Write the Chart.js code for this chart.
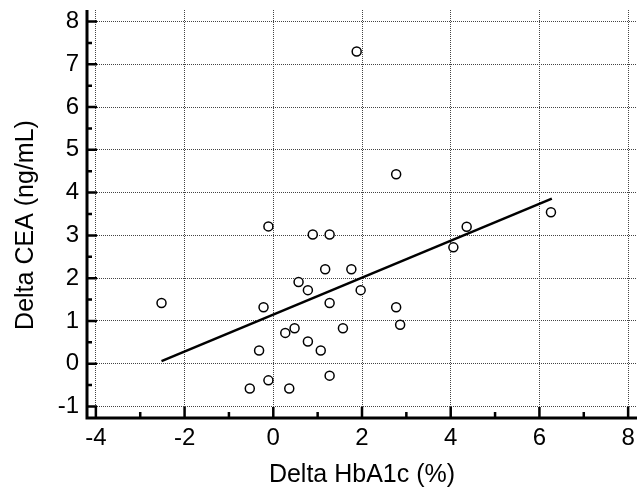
<!DOCTYPE html>
<html>
<head>
<meta charset="utf-8">
<script src="https://cdn.jsdelivr.net/npm/chart.js@4"></script>
<style>
    body { margin: 0; background: #fff; }
    #wrap { width: 643px; height: 488px; }
</style>
</head>
<body>
<div id="wrap"><canvas id="myChart" width="643" height="488"></canvas></div>
<script>
// DATA
const xValues = [-2.52, -0.11, 0.89, 1.27, 1.17, 1.76, 0.57, 0.78, 1.97, 1.27, -0.22, 2.77, 2.86, 0.48,
    0.27, 1.57, 0.78, -0.32, 1.07, 1.27, -0.11, -0.53, 0.36, 1.88, 2.77, 4.36, 4.06, 6.26];
const yValues = [1.42, 3.21, 3.02, 3.02, 2.21, 2.21, 1.91, 1.72, 1.72, 1.42, 1.32, 1.32, 0.91, 0.83,
    0.72, 0.83, 0.52, 0.31, 0.31, -0.28, -0.39, -0.58, -0.58, 7.30, 4.43, 3.20, 2.72, 3.54];
// regression line end points
const fitX = [-2.52, 6.28];
const fitY = [0.06, 3.86];
// ticks
const xTicks = [-4, -2, 0, 2, 4, 6, 8];
const xMinorTicks = [-3, -1, 1, 3, 5, 7];
const yTicks = [-1, 0, 1, 2, 3, 4, 5, 6, 7, 8];
const yMinorTicks = [-0.5, 0.5, 1.5, 2.5, 3.5, 4.5, 5.5, 6.5, 7.5];
const xTitle = 'Delta HbA1c (%)';
const yTitle = 'Delta CEA (ng/mL)';

const FONT = 'Liberation Sans, Arial, Helvetica, sans-serif';

// no extra room for the end labels, the plot area is fixed by layout padding
function noPadding(s) {
    s.paddingTop = 0;
    s.paddingBottom = 0;
    s.paddingLeft = 0;
    s.paddingRight = 0;
}

// axes + inward ticks, drawn from the chart's own scales
const axesPlugin = {
    id: 'axesPlugin',
    afterDatasetsDraw(chart) {
        const ctx = chart.ctx;
        const area = chart.chartArea;
        const xs = chart.scales.x;
        const ys = chart.scales.y;
        ctx.save();
        ctx.strokeStyle = '#000';
        ctx.lineCap = 'butt';
        // major + minor ticks
        ctx.lineWidth = 2.5;
        ctx.beginPath();
        xTicks.forEach(v => {
            const px = xs.getPixelForValue(v);
            ctx.moveTo(px, area.bottom);
            ctx.lineTo(px, area.bottom - 11);
        });
        xMinorTicks.forEach(v => {
            const px = xs.getPixelForValue(v);
            ctx.moveTo(px, area.bottom);
            ctx.lineTo(px, area.bottom - 6);
        });
        yTicks.forEach(v => {
            const py = ys.getPixelForValue(v);
            ctx.moveTo(area.left, py);
            ctx.lineTo(area.left + 10, py);
        });
        yMinorTicks.forEach(v => {
            const py = ys.getPixelForValue(v);
            ctx.moveTo(area.left, py);
            ctx.lineTo(area.left + 5, py);
        });
        ctx.stroke();
        // axis lines
        ctx.lineWidth = 3;
        ctx.beginPath();
        ctx.moveTo(area.left, area.top);
        ctx.lineTo(area.left, area.bottom + 1.5);
        ctx.moveTo(area.left - 1.5, area.bottom);
        ctx.lineTo(area.right, area.bottom);
        ctx.stroke();

        // y title, sits a bit below the middle of the axis in the original
        ctx.translate(33, (area.top + area.bottom) / 2 + 11);
        ctx.rotate(-Math.PI / 2);
        ctx.fillStyle = '#000';
        ctx.font = '25px ' + FONT;
        ctx.textAlign = 'center';
        ctx.textBaseline = 'alphabetic';
        ctx.fillText(yTitle, 0, 0);
        ctx.restore();
    }
};

const ctx = document.getElementById('myChart');

new Chart(ctx, {
    type: 'scatter',
    data: {
        datasets: [{
            label: 'points',
            data: xValues.map((x, i) => ({ x: x, y: yValues[i] })),
            pointRadius: 4.5,
            pointHoverRadius: 4.5,
            pointBorderWidth: 1.5,
            borderColor: '#000',
            backgroundColor: '#fff',
            order: 1
        }, {
            type: 'line',
            label: 'fit',
            data: fitX.map((x, i) => ({ x: x, y: fitY[i] })),
            borderColor: '#000',
            borderWidth: 2.5,
            pointRadius: 0,
            fill: false,
            order: 2
        }]
    },
    options: {
        responsive: false,
        animation: false,
        devicePixelRatio: 1,
        layout: { padding: { top: 10, right: 0, left: 0, bottom: 0 } },
        plugins: {
            legend: { display: false },
            tooltip: { enabled: false }
        },
        scales: {
            x: {
                type: 'linear',
                min: -4.2,
                max: 8.2,
                afterBuildTicks: s => { s.ticks = xTicks.map(v => ({ value: v })); },
                afterFit: s => { s.height = 70; noPadding(s); },
                ticks: {
                    color: '#000',
                    font: { family: FONT, size: 24 },
                    padding: 6,
                    maxRotation: 0,
                    autoSkip: false
                },
                grid: { color: '#444', lineWidth: 1, drawTicks: false },
                border: { display: false, dash: [1, 1] },
                title: {
                    display: true,
                    text: xTitle,
                    color: '#000',
                    font: { family: FONT, size: 25, lineHeight: 1 },
                    padding: { top: 0, bottom: 0 }
                }
            },
            y: {
                type: 'linear',
                min: -1.27,
                max: 8.27,
                afterBuildTicks: s => { s.ticks = yTicks.map(v => ({ value: v })); },
                afterFit: s => { s.width = 87; noPadding(s); },
                ticks: {
                    color: '#000',
                    font: { family: FONT, size: 24 },
                    padding: 8,
                    autoSkip: false
                },
                grid: { color: '#444', lineWidth: 1, drawTicks: false },
                border: { display: false, dash: [1, 1] },
                title: { display: false }
            }
        }
    },
    plugins: [axesPlugin]
});
</script>
</body>
</html>
